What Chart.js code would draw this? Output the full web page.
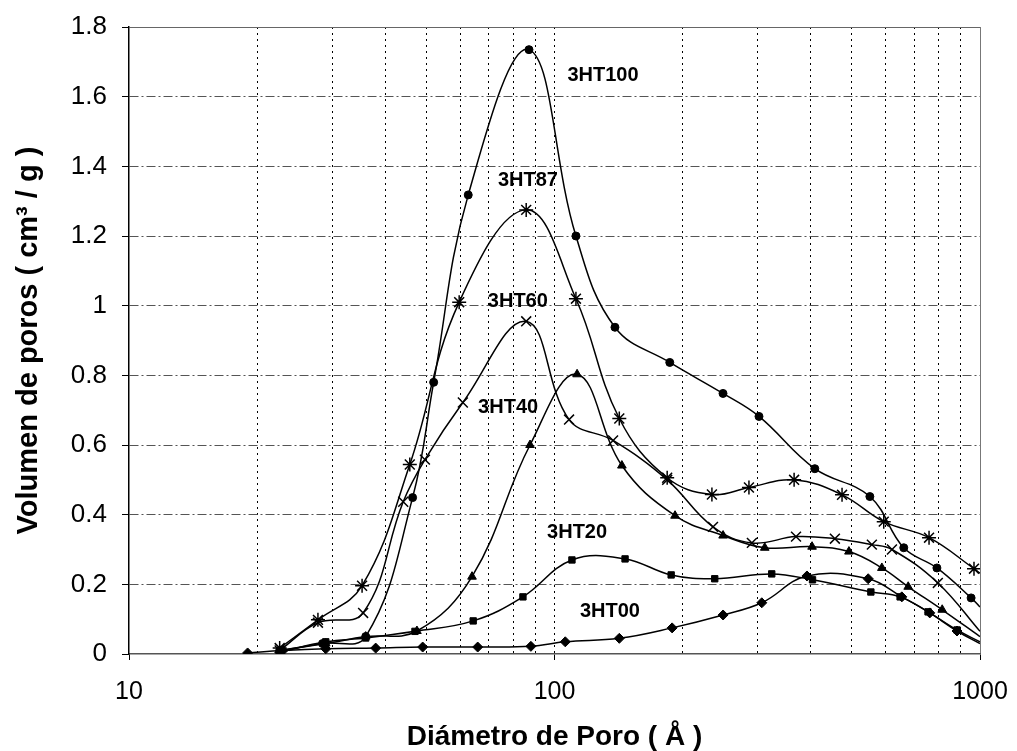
<!DOCTYPE html>
<html>
<head>
<meta charset="utf-8">
<script src="https://cdn.jsdelivr.net/npm/chart.js@4.4.0/dist/chart.umd.min.js"></script>
<style>
  html, body { margin: 0; padding: 0; background: #fff; }
  #wrap { width: 1017px; height: 751px; }
</style>
</head>
<body>
<div id="wrap"><canvas id="poros" width="1017" height="751"></canvas></div>
<script>
// Diámetro de poro (Å) y volumen (cm3/g) por muestra.
// El último valor de cada serie es el extremo de la curva en 1000 Å (sin marcador).
const d3HT100 = [22.6, 28.5, 36, 46.4, 52, 62.7, 87.1, 112.3, 138.7, 186.6, 248.9, 302.4, 409, 551, 662, 792, 953, 1000];
const v3HT100 = [0.01, 0.03, 0.05, 0.449, 0.78, 1.318, 1.735, 1.2, 0.938, 0.837, 0.748, 0.682, 0.532, 0.452, 0.305, 0.247, 0.161, 0.135];

const d3HT87 = [22.6, 27.8, 35.3, 45.7, 59.7, 85.8, 112.3, 142, 184, 234.4, 286.4, 365.7, 474, 594, 759, 968, 1000];
const v3HT87 = [0.017, 0.098, 0.196, 0.544, 1.01, 1.275, 1.02, 0.676, 0.506, 0.458, 0.478, 0.50, 0.457, 0.38, 0.334, 0.245, 0.232];

const d3HT60 = [22.6, 27.8, 35.5, 44.1, 49.6, 60.9, 85.8, 108.2, 137.3, 184, 235.8, 291, 369.5, 456, 557, 621, 796, 1000];
const v3HT60 = [0.01, 0.09, 0.118, 0.437, 0.558, 0.722, 0.955, 0.673, 0.613, 0.50, 0.365, 0.319, 0.337, 0.331, 0.314, 0.30, 0.204, 0.065];

const d3HT40 = [22.6, 29, 36, 47.5, 64, 87.6, 113, 144, 192, 249, 312, 403, 492, 588, 678, 815, 1000];
const v3HT40 = [0.01, 0.03, 0.05, 0.066, 0.222, 0.60, 0.803, 0.541, 0.397, 0.34, 0.305, 0.308, 0.294, 0.247, 0.193, 0.127, 0.05];

const d3HT20 = [22.6, 29, 36, 47, 64.4, 84.3, 109.9, 146.5, 188, 238, 324, 404, 554, 649, 755, 883, 1000];
const v3HT20 = [0.005, 0.035, 0.046, 0.065, 0.095, 0.164, 0.27, 0.273, 0.227, 0.216, 0.23, 0.213, 0.178, 0.164, 0.121, 0.069, 0.035];

const d3HT00 = [19, 23, 29, 38, 49, 66, 88, 106, 142, 189, 249, 307, 392, 546, 655, 762, 883, 1000];
const v3HT00 = [0.003, 0.01, 0.015, 0.017, 0.02, 0.02, 0.022, 0.035, 0.045, 0.075, 0.112, 0.147, 0.224, 0.216, 0.164, 0.118, 0.066, 0.03];

// Etiquetas de cada curva (posición en unidades de los ejes)
const curveNames = ["3HT100", "3HT87", "3HT60", "3HT40", "3HT20", "3HT00"];
const nameX = [130, 86.6, 82, 77.8, 113, 135];
const nameY = [1.66, 1.358, 1.013, 0.708, 0.348, 0.121];

// Marcas de los ejes
const xLines = [10, 20, 30, 40, 50, 60, 70, 80, 90, 100, 200, 300, 400, 500, 600, 700, 800, 900, 1000];
const xTickLabels = [10, 100, 1000];
const yTicks = [0, 0.2, 0.4, 0.6, 0.8, 1, 1.2, 1.4, 1.6, 1.8];

const FONT = "'Liberation Sans', Arial, sans-serif";

function pts(xs, ys) {
  return xs.map((x, i) => ({ x: x, y: ys[i] }));
}

function serie(label, xs, ys, style, radius, bw) {
  const last = xs.length - 1;
  return {
    label: label,
    data: pts(xs, ys),
    borderColor: "#000",
    backgroundColor: "#000",
    borderWidth: 1.5,
    tension: 0.4,
    pointStyle: style,
    pointRadius: xs.map((x, i) => i === last ? 0 : radius),
    pointBorderWidth: bw,
    pointBackgroundColor: "#000",
    pointBorderColor: "#000",
    fill: false
  };
}

// no dejar que las etiquetas de los ticks muevan el área del gráfico
function noPad(s) {
  s.paddingLeft = 0;
  s.paddingRight = 0;
  s.paddingTop = 0;
  s.paddingBottom = 0;
}

const nombres = {
  id: "nombres",
  afterDatasetsDraw(chart) {
    const ctx = chart.ctx;
    const xs = chart.scales.x, ys = chart.scales.y;
    ctx.save();
    ctx.fillStyle = "#000";
    ctx.font = "bold 20px " + FONT;
    ctx.textAlign = "center";
    ctx.textBaseline = "middle";
    curveNames.forEach((n, i) => {
      ctx.fillText(n, xs.getPixelForValue(nameX[i]), ys.getPixelForValue(nameY[i]));
    });
    ctx.restore();
  }
};

new Chart(document.getElementById("poros"), {
  type: "line",
  data: {
    datasets: [
      serie("3HT100", d3HT100, v3HT100, "circle", 4, 1),
      serie("3HT87", d3HT87, v3HT87, "star", 7, 1.5),
      serie("3HT60", d3HT60, v3HT60, "crossRot", 7, 1.5),
      serie("3HT40", d3HT40, v3HT40, "triangle", 5, 1),
      serie("3HT20", d3HT20, v3HT20, "rect", 4.5, 1),
      serie("3HT00", d3HT00, v3HT00, "rectRot", 5, 1)
    ]
  },
  options: {
    responsive: false,
    animation: false,
    devicePixelRatio: 1,
    layout: { padding: { left: 8, top: 27, right: 37, bottom: 0 } },
    plugins: {
      legend: { display: false },
      tooltip: { enabled: false }
    },
    scales: {
      x: {
        type: "logarithmic",
        position: "bottom",
        min: 10,
        max: 1000,
        afterBuildTicks: (s) => { s.ticks = xLines.map(v => ({ value: v })); },
        afterFit: (s) => { s.height = 97; noPad(s); },
        ticks: {
          autoSkip: false,
          maxRotation: 0,
          padding: 17,
          color: "#000",
          font: { family: FONT, size: 25 },
          callback: (v) => xTickLabels.includes(v) ? String(v) : ""
        },
        grid: {
          drawTicks: true,
          tickLength: 6,
          lineWidth: 1,
          color: (c) => {
            if (!c.tick) return "#000";
            if (c.tick.value === 10) return "rgba(0,0,0,0)";
            if (c.tick.value === 1000) return "#777";
            return "#000";
          },
          tickColor: (c) => (c.tick && xTickLabels.includes(c.tick.value)) ? "#000" : "rgba(0,0,0,0)"
        },
        border: {
          display: true,
          color: "#555",
          width: 1.5,
          dash: (c) => (c.tick && c.tick.value !== 1000) ? [2, 4] : []
        },
        title: {
          display: true,
          text: "Diámetro de Poro ( Å )",
          color: "#000",
          font: { family: FONT, size: 28, weight: "bold", lineHeight: 1 },
          padding: { top: 0, bottom: 0 }
        }
      },
      y: {
        min: 0,
        max: 1.8,
        afterBuildTicks: (s) => { s.ticks = yTicks.map(v => ({ value: v })); },
        afterFit: (s) => { s.width = 121; noPad(s); },
        ticks: {
          padding: 15,
          color: "#000",
          font: { family: FONT, size: 26 },
          callback: (v) => String(Math.round(v * 10) / 10)
        },
        grid: {
          drawTicks: true,
          tickLength: 7,
          lineWidth: 1,
          color: (c) => {
            if (!c.tick) return "#555";
            if (c.tick.value === 0) return "rgba(0,0,0,0)";
            if (c.tick.value === 1.8) return "#666";
            return "#555";
          },
          tickColor: "#000"
        },
        border: {
          display: true,
          color: "#000",
          width: 1.5,
          dash: (c) => (c.tick && c.tick.value > 0 && c.tick.value < 1.8) ? [9, 3, 2, 3] : []
        },
        title: {
          display: true,
          text: "Volumen de poros ( cm³ / g )",
          color: "#000",
          font: { family: FONT, size: 29, weight: "bold", lineHeight: 1.2 },
          padding: { top: 4, bottom: 0 }
        }
      }
    }
  },
  plugins: [nombres]
});
</script>
</body>
</html>
